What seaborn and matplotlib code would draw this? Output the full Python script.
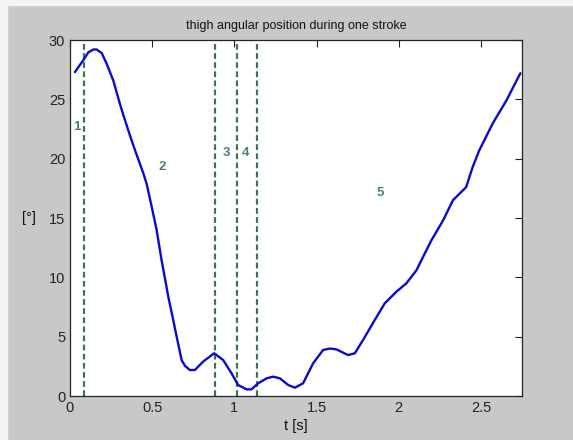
import matplotlib
matplotlib.use("Agg")
import matplotlib.pyplot as plt
import seaborn as sns
import pandas as pd
from matplotlib.patches import Rectangle

# ---- data ----
t = [0.03, 0.081, 0.111, 0.142, 0.162, 0.193, 0.223, 0.263, 0.304, 0.334,
     0.365, 0.395, 0.446, 0.466, 0.497, 0.527, 0.557, 0.598, 0.628, 0.649,
     0.679, 0.699, 0.729,
     0.76, 0.81, 0.877, 0.932, 0.983, 1.023, 1.074, 1.104, 1.145, 1.196,
     1.236, 1.277, 1.327, 1.368, 1.418, 1.479, 1.54, 1.581, 1.621, 1.692,
     1.733, 1.783, 1.854, 1.915, 1.986, 2.047, 2.108, 2.158, 2.198, 2.27,
     2.33, 2.41, 2.45, 2.49, 2.573, 2.655, 2.74]
angle = [27.3, 28.3, 28.95, 29.2, 29.2, 28.9, 28.0, 26.6, 24.6, 23.26,
         21.95, 20.73, 18.77, 17.9, 15.95, 14.0, 11.46, 8.37, 6.4, 5.0,
         3.03, 2.55, 2.19,
         2.19, 2.9, 3.6, 3.03, 1.91, 0.93, 0.56, 0.56, 1.07, 1.49,
         1.63, 1.49, 0.93, 0.7, 1.07, 2.75, 3.88, 4.0, 3.93, 3.45,
         3.6, 4.72, 6.4, 7.81, 8.79, 9.5, 10.6, 12.0, 13.1, 14.8,
         16.5, 17.6, 19.3, 20.7, 23.0, 24.9, 27.2]

phase_bounds = [0.085, 0.881, 1.015, 1.135]
phase_labels = ["1", "2", "3", "4", "5"]
phase_label_t = [0.04, 0.56, 0.95, 1.065, 1.885]
phase_label_y = [22.7, 19.3, 20.5, 20.5, 17.1]

title = "thigh angular position during one stroke"
xlabel = "t [s]"
ylabel = "[°]"
xticks = [0, 0.5, 1, 1.5, 2, 2.5]
xticklabels = ["0", "0.5", "1", "1.5", "2", "2.5"]
yticks = [0, 5, 10, 15, 20, 25, 30]

df = pd.DataFrame({"t": t, "angle": angle})

sns.set_style("white")
plt.rcParams['font.family'] = ['Liberation Sans', 'DejaVu Sans']

fig = plt.figure(figsize=(5.73, 4.40), dpi=100, facecolor="#c8c8c8")
# thin light border at top/left as in the screenshot
fig.patches.append(Rectangle((0, 0), 7 / 573, 1, transform=fig.transFigure,
                             color="#f4f4f4", zorder=0))
fig.patches.append(Rectangle((0, 1 - 5 / 440), 1, 5 / 440, transform=fig.transFigure,
                             color="#f4f4f4", zorder=0))

ax = fig.add_axes([70 / 573, 1 - 396 / 440, (522 - 70) / 573, (396 - 40) / 440])
ax.set_facecolor("white")

for xb in phase_bounds:
    ax.axvline(xb, color="#46704f", linestyle=(0, (2.6, 1.5)), linewidth=1.6, zorder=1)

sns.lineplot(data=df, x="t", y="angle", ax=ax, color="#0a0acc", linewidth=1.7,
             sort=False, zorder=3)

for lab, lx, ly in zip(phase_labels, phase_label_t, phase_label_y):
    ax.text(lx, ly, lab, color="#4a7d7d", fontsize=9.5, fontweight="bold",
            ha="center", va="center")

ax.set_xlim(0, 2.75)
ax.set_ylim(0, 30)
ax.set_xticks(xticks)
ax.set_xticklabels(xticklabels)
ax.set_yticks(yticks)
ax.tick_params(direction="in", length=5, width=0.8, labelsize=10.5, colors="#222222",
               top=True, right=True, labeltop=False, labelright=False)
for s in ax.spines.values():
    s.set_visible(True)
    s.set_color("#222222")
    s.set_linewidth(0.9)

ax.set_title(title, fontsize=9, color="#111111", pad=8)
ax.set_xlabel(xlabel, fontsize=10.5, color="#111111", labelpad=3)
ax.set_ylabel(ylabel, fontsize=10.5, color="#111111", rotation=0, labelpad=14,
              va="center")

fig.savefig("out.png", dpi=100, facecolor=fig.get_facecolor())
